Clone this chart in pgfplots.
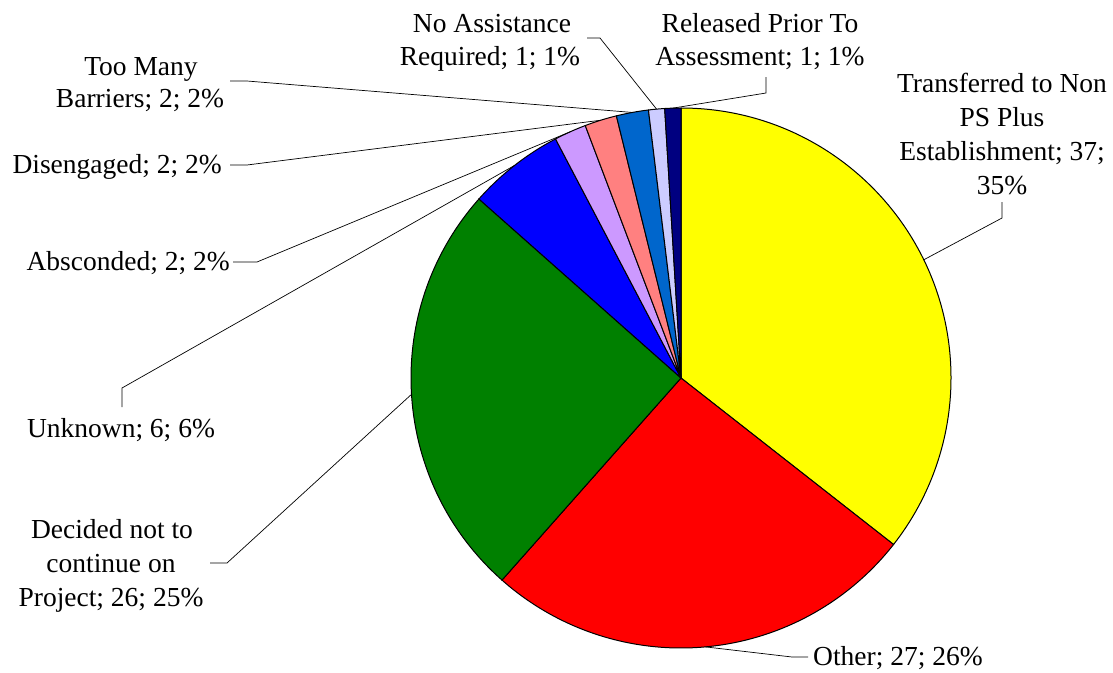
\documentclass[border=0pt]{standalone}
\usepackage{pgfplots}
\pgfplotsset{compat=1.18}
\usepackage{fontspec}
\setmainfont{Liberation Serif}
\newfontfamily\tnr{Liberation Serif}

\definecolor{sYel}{HTML}{FFFF00}
\definecolor{sRed}{HTML}{FF0000}
\definecolor{sGrn}{HTML}{008000}
\definecolor{sBlu}{HTML}{0000FF}
\definecolor{sPur}{HTML}{CC99FF}
\definecolor{sSal}{HTML}{FF8080}
\definecolor{sMid}{HTML}{0066CC}
\definecolor{sLav}{HTML}{CCCCFF}
\definecolor{sNav}{HTML}{000080}

\begin{document}
\begin{tikzpicture}
\begin{axis}[
    hide axis, scale only axis,
    width=1113pt, height=672pt,
    xmin=0, xmax=1113, ymin=0, ymax=672,
    y dir=reverse, clip=false,
  ]
  % slices, clockwise from 12 o'clock
  \gdef\total{0}
  \foreach \v in {37,27,26,6,2,2,2,1,1}{%
    \pgfmathsetmacro\tt{\total+\v}\xdef\total{\tt}}
  \gdef\cum{0}
  \foreach \v/\col [count=\n] in {37/sYel,27/sRed,26/sGrn,6/sBlu,2/sPur,2/sSal,2/sMid,1/sLav,1/sNav}{%
    \pgfmathsetmacro\sa{90-\cum/\total*360}%
    \pgfmathsetmacro\ea{90-(\cum+\v)/\total*360}%
    \pgfmathsetmacro\ma{(\sa+\ea)/2}%
    \edef\tmp{%
      \noexpand\filldraw[fill=\col, draw=black, line width=1pt]
        (axis cs:681,378) -- ++(\sa:270pt) arc[start angle=\sa, end angle=\ea, radius=270pt] -- cycle;
      \noexpand\coordinate (m\n) at ([shift={(\ma:270pt)}]axis cs:681,378);}%
    \tmp
    \pgfmathsetmacro\nc{\cum+\v}\xdef\cum{\nc}%
  }

  % leader lines
  \begin{scope}[line width=0.7pt]
    \draw (axis cs:1002,202) -- (axis cs:1002,218) -- (m1);
    \draw (axis cs:808,657) -- (axis cs:792,657) -- (m2);
    \draw (axis cs:210,563) -- (axis cs:227,563) -- (m3);
    \draw (axis cs:122,407) -- (axis cs:122,388) -- (m4);
    \draw (axis cs:233,262) -- (axis cs:257,262) -- (m5);
    \draw (axis cs:230,165) -- (axis cs:247,165) -- (m6);
    \draw (axis cs:230,81) -- (axis cs:247,81) -- (m7);
    \draw (axis cs:587,38) -- (axis cs:600,38) -- (m8);
    \draw (axis cs:766,77) -- (axis cs:766,93) -- (m9);
  \end{scope}

  % data labels, one node per line on its baseline
  \begin{scope}[font=\tnr\fontsize{27.5}{33.5}\selectfont, inner sep=0pt, anchor=base]
    \node at (axis cs:1002,92) {Transferred to Non};
    \node at (axis cs:1002,126) {PS Plus};
    \node at (axis cs:1002,160) {Establishment; 37;};
    \node at (axis cs:1002,194) {35\%};
    \node[anchor=base west] at (axis cs:813,665) {Other; 27; 26\%};
    \node at (axis cs:112,538) {Decided not to};
    \node at (axis cs:111,572) {continue on};
    \node at (axis cs:111,606) {Project; 26; 25\%};
    \node at (axis cs:121,437) {Unknown; 6; 6\%};
    \node[anchor=base east] at (axis cs:230,270) {Absconded; 2; 2\%};
    \node[anchor=base east] at (axis cs:222,173) {Disengaged; 2; 2\%};
    \node at (axis cs:141,75) {Too Many};
    \node at (axis cs:140,107) {Barriers; 2; 2\%};
    \node at (axis cs:492,32) {No Assistance};
    \node at (axis cs:490,65) {Required; 1; 1\%};
    \node at (axis cs:760,32) {Released Prior To};
    \node at (axis cs:760,65) {Assessment; 1; 1\%};
  \end{scope}
\end{axis}
\pgfresetboundingbox
\path (current axis.south west) rectangle (current axis.north east);
\end{tikzpicture}
\end{document}
